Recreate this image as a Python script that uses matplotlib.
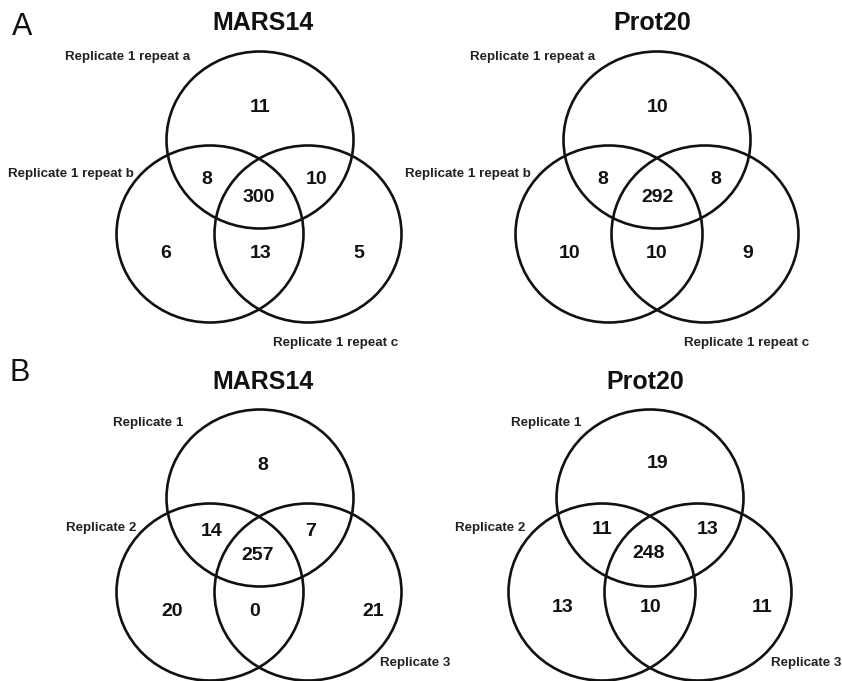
import matplotlib
matplotlib.use("Agg")
import matplotlib.pyplot as plt
from matplotlib.patches import Ellipse

plt.rcParams['font.family'] = ['Liberation Sans', 'DejaVu Sans']

# ---- data ----
panel_letters = ["A", "B"]
titles = ["MARS14", "Prot20", "MARS14", "Prot20"]
labels_A = ["Replicate 1 repeat a", "Replicate 1 repeat b", "Replicate 1 repeat c"]
labels_B = ["Replicate 1", "Replicate 2", "Replicate 3"]
# region order: only1, 1&2, 1&3, all, only2, 2&3, only3
mars14_A = [11, 8, 10, 300, 6, 13, 5]
prot20_A = [10, 8, 8, 292, 10, 10, 9]
mars14_B = [8, 14, 7, 257, 20, 0, 21]
prot20_B = [19, 11, 13, 248, 13, 10, 11]

W, H = 842, 681
fig = plt.figure(figsize=(W / 100, H / 100), dpi=100)
ax = fig.add_axes([0, 0, 1, 1])
ax.set_xlim(0, W)
ax.set_ylim(H, 0)
ax.axis('off')

panels = [
    dict(vals=mars14_A, labels=labels_A, title=titles[0], title_xy=(263, 23),
         circles=[(260, 140), (210, 234), (308, 234)],
         label_xy=[(128, 57), (71, 174), (336, 343)],
         num_xy=[(260, 107), (207, 179), (317, 179), (259, 197), (166, 253), (261, 253), (359, 253)]),
    dict(vals=prot20_A, labels=labels_A, title=titles[1], title_xy=(652, 23),
         circles=[(657, 140), (609, 234), (705, 234)],
         label_xy=[(533, 57), (468, 174), (747, 343)],
         num_xy=[(658, 107), (603, 179), (716, 179), (657, 197), (570, 253), (657, 253), (748, 253)]),
    dict(vals=mars14_B, labels=labels_B, title=titles[2], title_xy=(263, 382),
         circles=[(260, 498), (210, 592), (308, 592)],
         label_xy=[(148, 423), (101, 528), (415, 663)],
         num_xy=[(263, 465), (212, 532), (311, 532), (258, 555), (172, 612), (255, 612), (373, 612)]),
    dict(vals=prot20_B, labels=labels_B, title=titles[3], title_xy=(645, 382),
         circles=[(650, 498), (602, 592), (698, 592)],
         label_xy=[(546, 423), (490, 528), (806, 663)],
         num_xy=[(658, 463), (602, 530), (708, 530), (649, 553), (563, 608), (651, 608), (762, 608)]),
]

for p in panels:
    for (cx, cy) in p['circles']:
        ax.add_patch(Ellipse((cx, cy), 187, 177, fill=False, edgecolor='#111111', lw=1.9))
    ax.text(*p['title_xy'], p['title'], ha='center', va='center', fontsize=18,
            fontweight='bold', color='#111111')
    for (x, y), lab in zip(p['label_xy'], p['labels']):
        ax.text(x, y, lab, ha='center', va='center', fontsize=9.6, fontweight='bold',
                color='#222222')
    for (x, y), v in zip(p['num_xy'], p['vals']):
        ax.text(x, y, str(v), ha='center', va='center', fontsize=14, fontweight='bold',
                color='#111111')

ax.text(22, 27, panel_letters[0], ha='center', va='center', fontsize=22, color='#111111')
ax.text(20, 373, panel_letters[1], ha='center', va='center', fontsize=22, color='#111111')

fig.savefig("out.png", dpi=100, facecolor='white')
